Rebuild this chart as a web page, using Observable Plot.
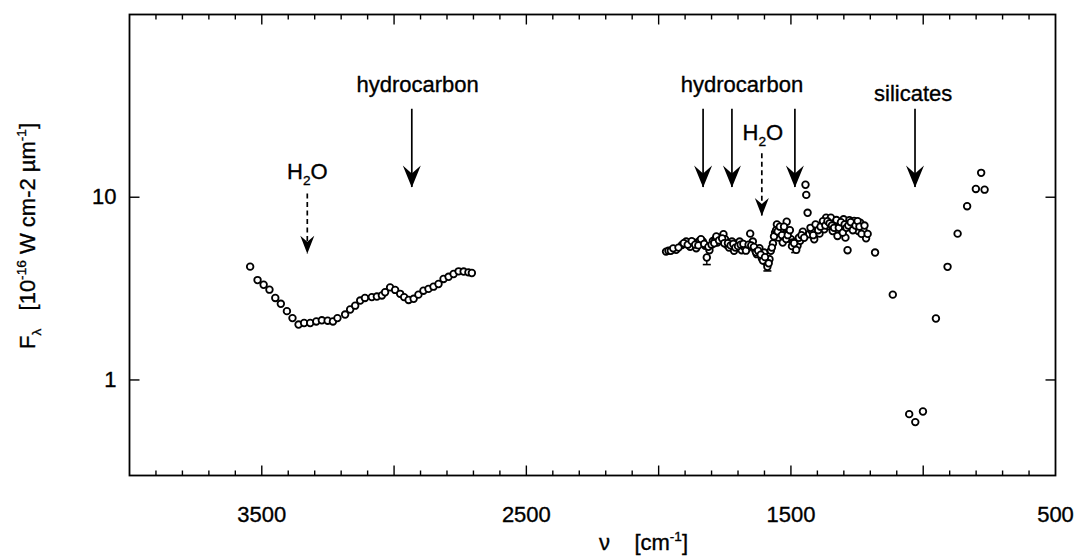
<!DOCTYPE html>
<html><head><meta charset="utf-8">
<script src="https://cdn.jsdelivr.net/npm/d3@7"></script>
<script src="https://cdn.jsdelivr.net/npm/@observablehq/plot@0.6"></script>
<style>
body{margin:0;background:#fff;}
#chart svg{font-family:"Liberation Sans",Arial,Helvetica,sans-serif;background:#fff;}
#chart svg text{stroke:#000;stroke-width:0.35px;}
</style></head><body><div id="chart"></div>
<script>
// ---- Data ----
// Segment 1: 3 micron region
const seg1Wavenumber = [3544,3516,3493,3471,3449,3428,3405,3384,3361,3340,3317,3294,3273,3251,3231,3214,3185,3166,3147,3128,3110,3084,3065,3046,3034,3015,2996,2977,2962,2945,2926,2908,2889,2870,2851,2832,2813,2794,2775,2756,2737,2719,2706];
const seg1Flux = [4.17,3.52,3.32,3.12,2.81,2.61,2.38,2.18,2.01,2.05,2.05,2.09,2.12,2.11,2.09,2.18,2.28,2.43,2.55,2.72,2.81,2.84,2.86,2.90,3.02,3.21,3.11,2.96,2.84,2.74,2.78,2.93,3.08,3.15,3.24,3.35,3.57,3.67,3.80,3.93,3.92,3.88,3.85];
// Segment 2: 5-8 micron region (first strand)
const seg2aWavenumber = [1972,1963,1954,1934,1912,1896,1881,1868,1858,1846,1833,1824,1818,1808,1795,1786,1778,1768,1755,1749,1742,1734,1723,1715,1705,1694,1686,1677,1664,1654,1644,1635,1629,1619,1610,1601,1594,1589,1581,1576,1568,1560,1553,1547,1538,1531,1522,1516,1509,1500,1493,1484,1475,1465,1455,1445,1442,1437,1431,1421,1412,1402,1392,1383,1374,1367,1358,1349,1342,1333,1324,1314,1308,1301,1294,1286,1279,1270,1261,1251,1245,1238,1228,1226,1216,1182];
const seg2aFlux = [5.04,5.09,5.09,5.15,5.48,5.72,5.35,5.65,5.26,5.77,5.72,5.42,4.68,5.13,5.77,5.89,5.65,6.01,6.27,5.89,5.48,5.30,5.72,5.09,5.58,5.72,5.13,5.35,5.26,6.32,5.72,5.13,4.88,5.26,4.64,4.98,4.40,4.16,4.58,5.09,5.58,6.40,7.10,6.01,6.67,5.65,6.27,7.34,6.53,5.89,5.65,5.30,5.42,5.77,6.48,11.7,10.3,8.22,6.27,6.53,5.89,6.81,6.32,7.10,6.67,7.72,6.95,7.72,6.53,7.25,6.14,7.10,6.67,7.57,6.01,5.13,7.48,6.95,7.41,7.10,6.53,7.25,6.67,6.62,5.96,4.98];
// Segment 2: second strand (overlapping observations)
const seg2bWavenumber = [1945,1925,1905,1890,1875,1862,1850,1840,1828,1812,1800,1790,1782,1772,1760,1752,1738,1728,1718,1710,1700,1690,1680,1670,1660,1650,1640,1632,1624,1614,1606,1598,1584,1572,1564,1556,1550,1542,1534,1526,1518,1512,1504,1496,1488,1480,1470,1460,1450,1426,1416,1407,1397,1388,1379,1370,1362,1354,1345,1337,1328,1319,1311,1304,1297,1290,1283,1274,1266,1256,1248,1241,1233,1222,1210];
const seg2bFlux = [5.25,5.3,5.6,5.5,5.75,5.5,5.45,5.9,5.55,5.35,5.5,5.6,6.1,5.8,5.95,5.6,5.6,5.45,5.55,5.3,5.4,5.5,5.55,5.1,5.5,5.45,5.35,5.0,5.1,4.85,4.5,4.7,4.35,5.3,6.1,6.6,6.5,6.9,6.2,6.9,5.9,6.2,6.6,5.4,5.6,5.15,6.0,6.2,6.0,6.8,6.2,7.1,6.6,6.9,7.4,7.0,7.4,7.2,7.0,6.8,7.5,6.8,7.3,6.4,7.1,6.8,7.0,7.3,6.6,7.0,7.4,6.9,6.3,7.0,6.3];
// Segment 3: silicate region
const seg3Wavenumber = [1115,1053,1030,1001,952,908,870,834,801,781,768];
const seg3Flux = [2.93,0.65,0.588,0.672,2.17,4.16,6.32,8.93,11.1,13.6,11.0];
// Error bars
const errWavenumber = [1818,1589,1484];
const errHigh = [4.68,4.16,5.30];
const errLow = [4.28,3.95,4.98];
// Feature arrows
const arrowWavenumber = [3328,2933,1832,1723,1610,1485,1031];
const arrowTop = [10.4,30.3,30.3,30.3,17.3,30.3,30.3];
const arrowTip = [4.9,11.3,11.3,11.3,7.9,11.3,11.3];
const arrowDashed = [true,false,false,false,true,false,false];
// Feature labels
const labelText = ["hydrocarbon","hydrocarbon","silicates","H_{2}O","H_{2}O"];
const labelWavenumber = [2911,1685,1038,3328,1606];
const labelFlux = [41.4,41.4,36.7,13.8,22.5];
// Axis ticks
const xMajorTicks = [1000,1500,2000,2500,3000,3500];
const xMinorTicks = [600,700,800,900,1100,1200,1300,1400,1600,1700,1800,1900,2100,2200,2300,2400,2600,2700,2800,2900,3100,3200,3300,3400,3600,3700,3800,3900];
const xTickLabels = [3500,2500,1500,500];
const yTicks = [1,10];
const xTitle = "ν    [cm^{-1}]";
const yTitle = "F_{λ}   [10^{-16} W cm-2 µm^{-1}]";

// ---- Build tables ----
const points = [
  ...seg1Wavenumber.map((x,i)=>({x, y: seg1Flux[i]})),
  ...seg2aWavenumber.map((x,i)=>({x, y: seg2aFlux[i]})),
  ...seg2bWavenumber.map((x,i)=>({x, y: seg2bFlux[i]})),
  ...seg3Wavenumber.map((x,i)=>({x, y: seg3Flux[i]}))
];
const errs = errWavenumber.map((x,i)=>({x, y1: errHigh[i], y2: errLow[i]}));
const arrows = arrowWavenumber.map((x,i)=>({x, top: arrowTop[i], tip: arrowTip[i], dashed: arrowDashed[i]}));
const labels = labelText.map((t,i)=>({t, x: labelWavenumber[i], y: labelFlux[i]}));

const headSolid = {draw(ctx){ctx.moveTo(0,0);ctx.lineTo(-9,-22);ctx.lineTo(0,-14);ctx.lineTo(9,-22);ctx.closePath();}};
const headDashed = {draw(ctx){ctx.moveTo(0,0);ctx.lineTo(-7,-18);ctx.lineTo(0,-12);ctx.lineTo(7,-18);ctx.closePath();}};
const capSymbol = {draw(ctx){ctx.moveTo(-4,0);ctx.lineTo(4,0);}};
const tick = (dx, dy) => ({draw(ctx){ctx.moveTo(0,0);ctx.lineTo(dx,dy);}});

const FS = 22;
const tickStyle = {stroke: "black", strokeWidth: 1.4, fill: "none"};
const chart = Plot.plot({
  width: 1076, height: 558,
  marginLeft: 129, marginRight: 21, marginTop: 14, marginBottom: 83,
  x: {domain: [4000, 500]},
  y: {type: "log", domain: [0.3, 100]},
  marks: [
    // inward ticks
    Plot.dot(xMinorTicks, {x: d => d, frameAnchor: "bottom", symbol: tick(0,-5), ...tickStyle}),
    Plot.dot(xMinorTicks, {x: d => d, frameAnchor: "top", symbol: tick(0,5), ...tickStyle}),
    Plot.dot(xMajorTicks, {x: d => d, frameAnchor: "bottom", symbol: tick(0,-10), ...tickStyle}),
    Plot.dot(xMajorTicks, {x: d => d, frameAnchor: "top", symbol: tick(0,10), ...tickStyle}),
    Plot.dot(yTicks, {y: d => d, frameAnchor: "left", symbol: tick(10,0), ...tickStyle}),
    Plot.dot(yTicks, {y: d => d, frameAnchor: "right", symbol: tick(-10,0), ...tickStyle}),
    // tick labels
    Plot.axisX({anchor: "bottom", ticks: xTickLabels, tickSize: 0, tickPadding: 31, fontSize: FS, tickFormat: d => String(d), label: null}),
    Plot.axisY({anchor: "left", ticks: yTicks, tickSize: 0, tickPadding: 13, fontSize: FS, tickFormat: d => String(d), label: null}),
    Plot.frame({stroke: "black", strokeWidth: 1.8}),
    // arrows
    Plot.ruleX(arrows.filter(d=>!d.dashed), {x: "x", y1: "top", y2: "tip", stroke: "black", strokeWidth: 1.7}),
    Plot.ruleX(arrows.filter(d=>d.dashed), {x: "x", y1: "top", y2: "tip", stroke: "black", strokeWidth: 1.7, strokeDasharray: "5,3.5"}),
    Plot.dot(arrows.filter(d=>!d.dashed), {x: "x", y: "tip", symbol: headSolid, fill: "black", stroke: "none"}),
    Plot.dot(arrows.filter(d=>d.dashed), {x: "x", y: "tip", symbol: headDashed, fill: "black", stroke: "none"}),
    Plot.text(labels, {x: "x", y: "y", text: "t", fontSize: FS, fill: "black"}),
    // error bars
    Plot.ruleX(errs, {x: "x", y1: "y1", y2: "y2", stroke: "black", strokeWidth: 1.4}),
    Plot.dot(errs, {x: "x", y: "y2", symbol: capSymbol, stroke: "black", strokeWidth: 1.6, fill: "none"}),
    // data
    Plot.dot(points, {x: "x", y: "y", r: 3.3, stroke: "black", strokeWidth: 1.8, fill: "white"}),
    // axis titles
    Plot.text([xTitle], {frameAnchor: "bottom", textAnchor: "middle", lineAnchor: "middle", dx: 51, dy: 67, text: d => d, fontSize: FS, fill: "black"}),
    Plot.text([yTitle], {frameAnchor: "left", textAnchor: "middle", lineAnchor: "middle", dx: -102, dy: -9, rotate: -90, text: d => d, fontSize: FS, fill: "black"})
  ]
});

function richify(el, fs) {
  const s = el.textContent;
  if (!/[_^]\{/.test(s)) return;
  while (el.firstChild) el.removeChild(el.firstChild);
  const parts = [];
  const re = /([_^])\{([^}]*)\}/g;
  let last = 0, m;
  while ((m = re.exec(s))) {
    if (m.index > last) parts.push({t: s.slice(last, m.index), k: ""});
    parts.push({t: m[2], k: m[1]});
    last = re.lastIndex;
  }
  if (last < s.length) parts.push({t: s.slice(last), k: ""});
  let cur = 0;
  for (const p of parts) {
    const target = p.k === "_" ? fs * 0.3 : p.k === "^" ? -fs * 0.4 : 0;
    const ts = document.createElementNS("http://www.w3.org/2000/svg", "tspan");
    if (target !== cur) ts.setAttribute("dy", target - cur);
    cur = target;
    if (p.k) ts.setAttribute("font-size", fs * 0.62);
    ts.textContent = p.t;
    el.appendChild(ts);
  }
}
chart.querySelectorAll("text").forEach(el => { el.style.whiteSpace = "pre"; richify(el, FS); });
document.getElementById("chart").appendChild(chart);
</script>
</body></html>
